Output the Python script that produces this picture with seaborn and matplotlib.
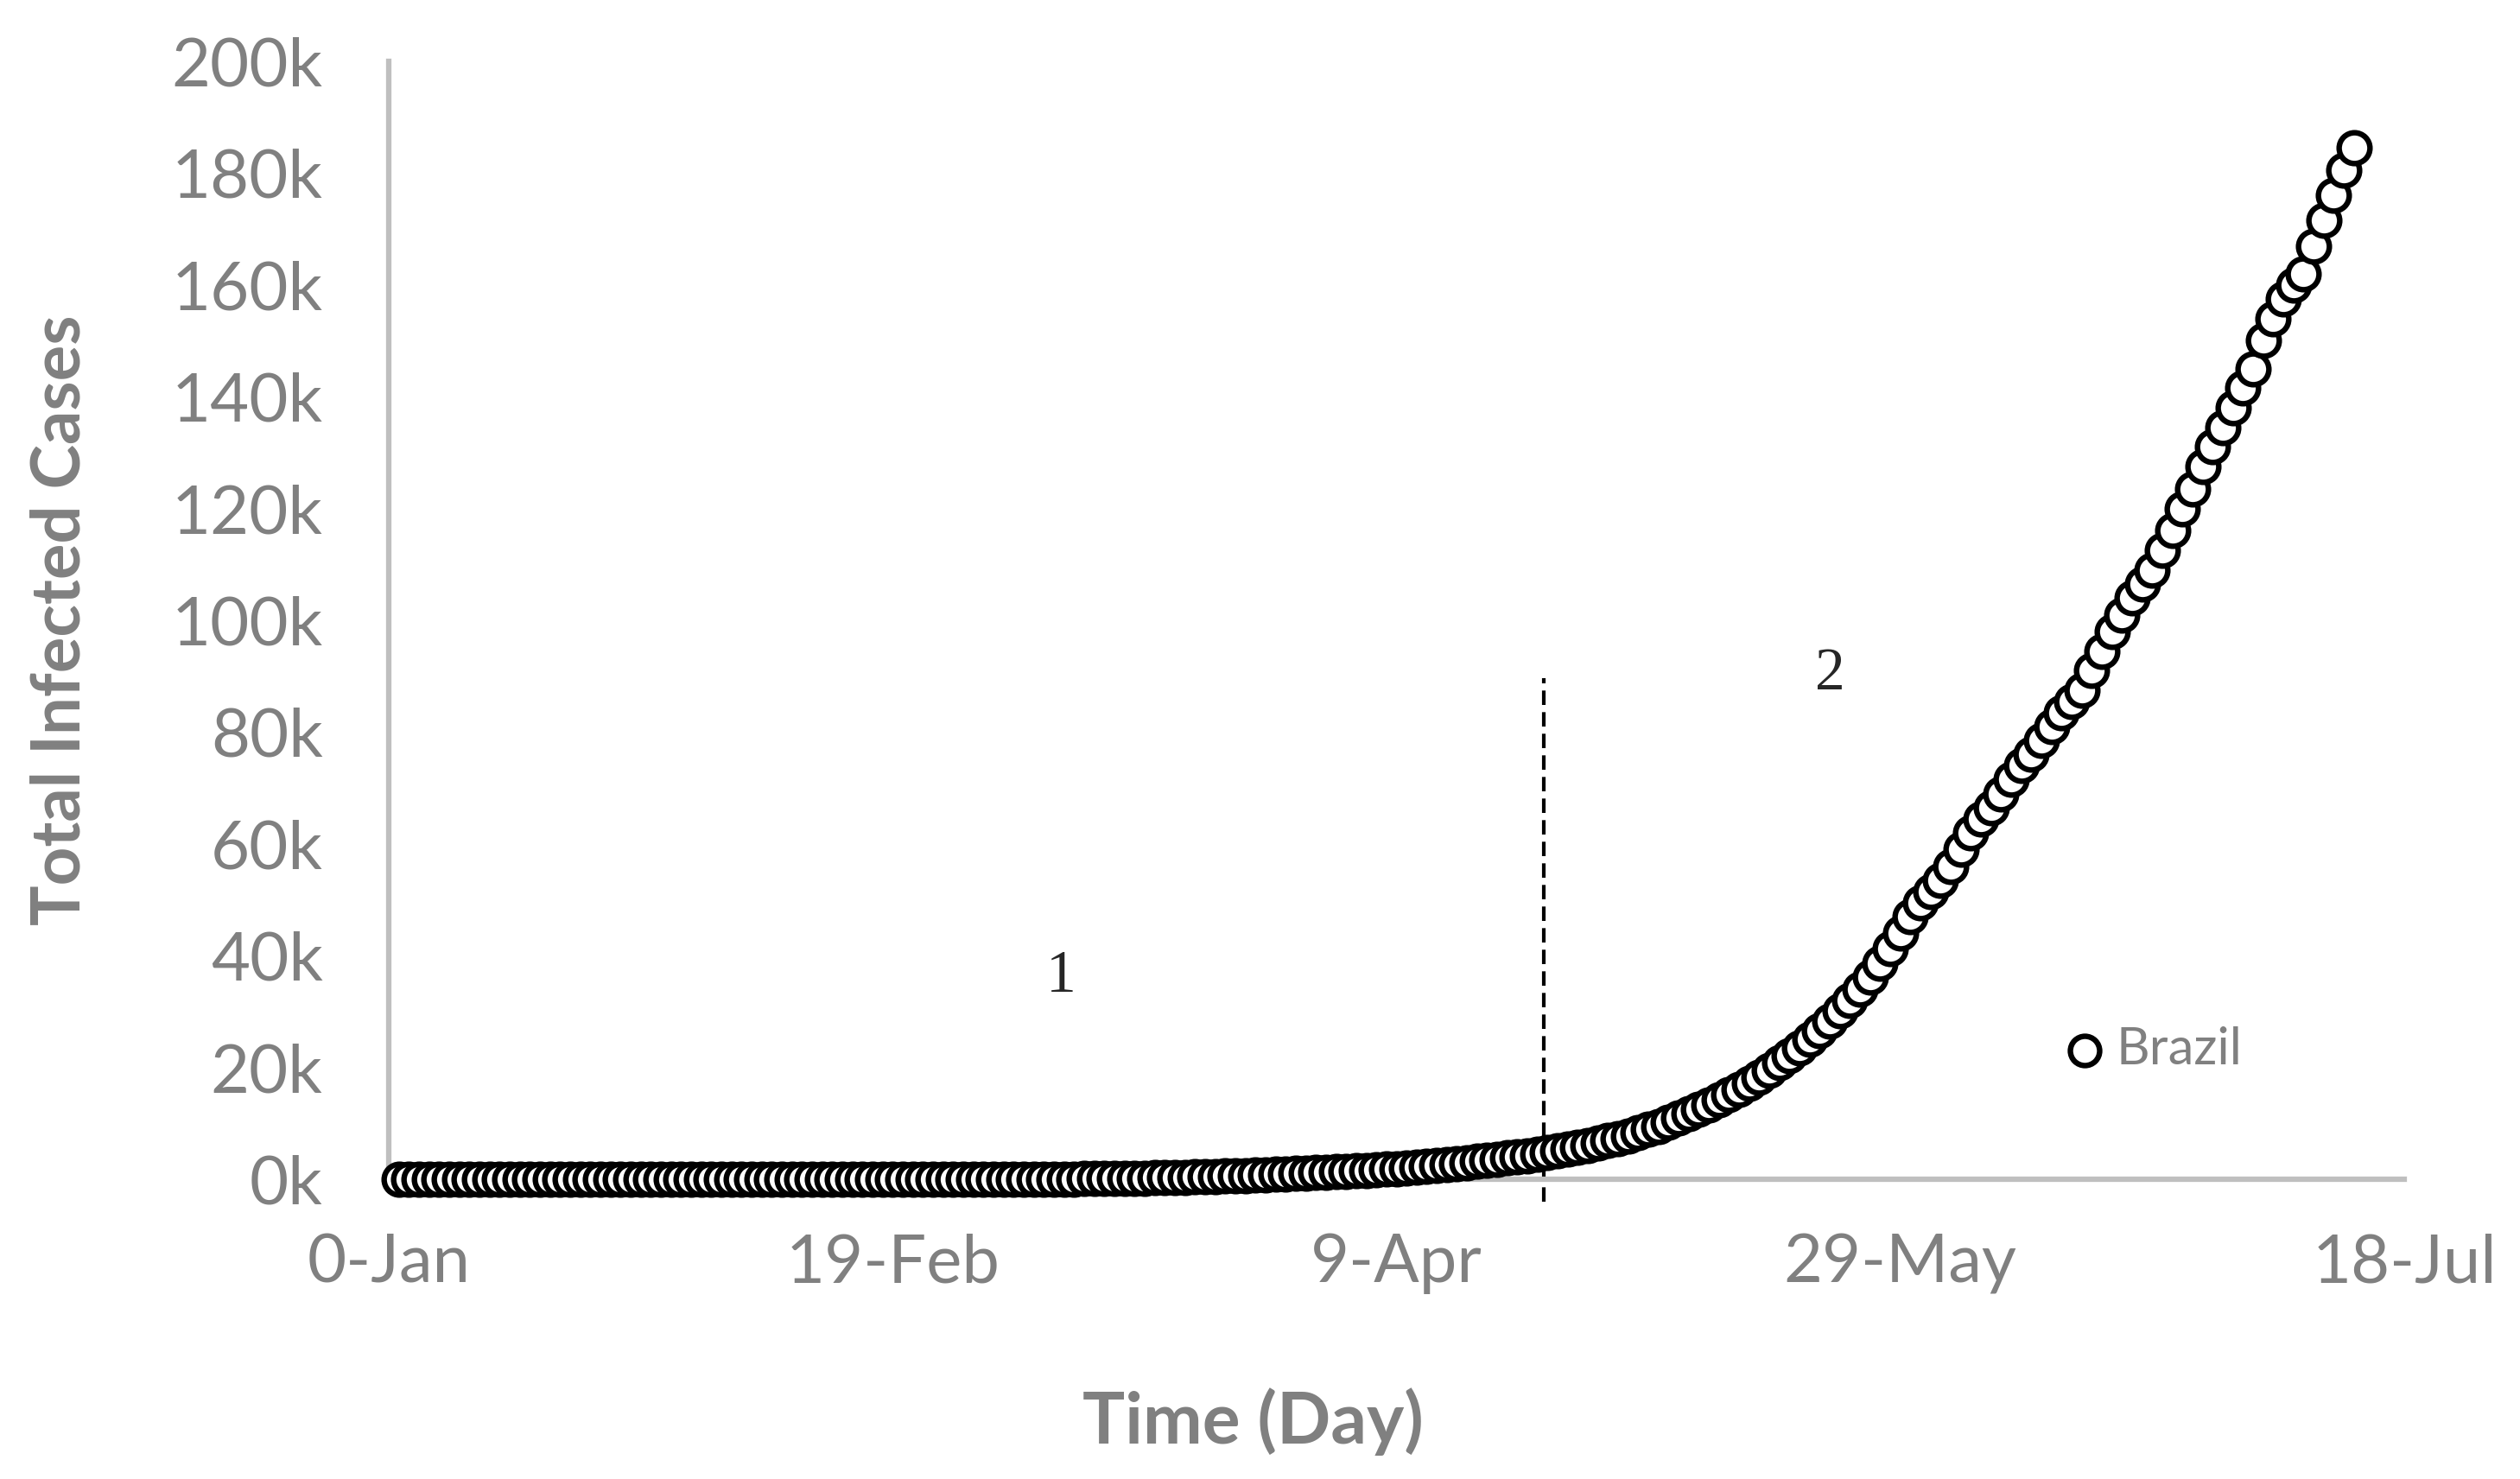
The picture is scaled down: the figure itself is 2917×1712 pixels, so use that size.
import matplotlib
matplotlib.use("Agg")
from matplotlib import pyplot as plt
import pandas as pd
import seaborn as sns

# Brazil - total infected cases per day
days = list(range(1, 196))
cases = [
    0, 0, 0, 0, 0, 0, 0, 0, 0, 0,
    0, 0, 0, 0, 0, 0, 0, 0, 0, 0,
    0, 0, 0, 0, 0, 0, 0, 0, 0, 0,
    0, 0, 0, 0, 0, 0, 0, 0, 0, 0,
    0, 0, 0, 0, 0, 0, 0, 0, 0, 0,
    0, 0, 0, 0, 0, 0, 1, 1, 1, 2,
    5, 10, 15, 20, 30, 40, 55, 70, 85, 100,
    120, 140, 160, 190, 220, 250, 290, 330, 370, 410,
    450, 500, 560, 620, 680, 740, 800, 870, 940, 1020,
    1100, 1180, 1260, 1340, 1420, 1500, 1600, 1700, 1800, 1900,
    2000, 2150, 2300, 2450, 2600, 2800, 3000, 3200, 3400, 3600,
    3800, 4000, 4250, 4500, 4800, 5100, 5400, 5750, 6100, 6500,
    6900, 7300, 7800, 8300, 8900, 9500, 10200, 10900, 11700, 12500,
    13300, 14200, 15100, 16100, 17200, 18300, 19500, 20800, 22100, 23500,
    25000, 26600, 28300, 30100, 32000, 34000, 36200, 38700, 41300, 44000,
    47000, 49500, 51500, 53500, 56000, 59000, 62000, 64500, 66500, 69000,
    71500, 74000, 76000, 78500, 81000, 83500, 85500, 87500, 91000, 94500,
    98000, 101000, 104000, 106500, 109000, 112500, 116000, 120000, 123500, 127500,
    131000, 134500, 138000, 141500, 145000, 150000, 154000, 157500, 160000, 162000,
    167000, 171500, 176000, 180500, 184500,
]

x_ticks = [0, 50, 100, 150, 200]
x_tick_labels = ["0-Jan", "19-Feb", "9-Apr", "29-May", "18-Jul"]
y_ticks = [0, 20000, 40000, 60000, 80000, 100000, 120000, 140000, 160000, 180000, 200000]
y_tick_labels = ["0k", "20k", "40k", "60k", "80k", "100k", "120k", "140k", "160k", "180k", "200k"]

df = pd.DataFrame({"day": days, "cases": cases, "country": "Brazil"})

sns.set_style("white")
plt.rcParams["font.family"] = ["Lato", "DejaVu Sans"]

grey = "#808080"
fig = plt.figure(figsize=(29.17, 17.12), dpi=100)
ax = fig.add_axes([450 / 2917, 347 / 1712, 2333 / 2917, 1294 / 1712])

# phase separator
ax.plot([114.6, 114.6], [-4000, 89600], color="black", lw=3,
        linestyle=(0, (4, 2)), clip_on=False, zorder=1)

sns.scatterplot(data=df, x="day", y="cases", ax=ax, marker="o", s=660,
                facecolor="white", edgecolor="black", linewidth=4.6,
                label="Brazil", clip_on=False, zorder=3)

ax.set_xlim(0, 200)
ax.set_ylim(0, 200000)
ax.set_xticks(x_ticks)
ax.set_xticklabels(x_tick_labels)
ax.set_yticks(y_ticks)
ax.set_yticklabels(y_tick_labels)
ax.tick_params(axis="both", length=0, labelsize=56, labelcolor=grey)
ax.tick_params(axis="x", pad=45)
ax.tick_params(axis="y", pad=55)

for side in ["top", "right"]:
    ax.spines[side].set_visible(False)
for side in ["left", "bottom"]:
    ax.spines[side].set_color("#bfbfbf")
    ax.spines[side].set_linewidth(4.5)

ax.set_xlabel("Time (Day)", fontsize=59, fontweight="bold", color=grey)
ax.xaxis.set_label_coords(0.429, -0.217)
ax.xaxis.label.set_va("center")
ax.set_ylabel("Total Infected Cases", fontsize=56, fontweight="bold", color=grey)
ax.yaxis.set_label_coords(-0.1625, 0.5)
ax.yaxis.label.set_va("center")

ax.text(66.7, 36200, "1", fontsize=50, family=["Liberation Serif", "DejaVu Serif"],
        ha="center", va="center")
ax.text(143, 90300, "2", fontsize=50, family=["Liberation Serif", "DejaVu Serif"],
        ha="center", va="center")

leg = ax.legend(loc="center left", bbox_to_anchor=(0.8326, 0.116), frameon=False,
                fontsize=43, markerscale=0.95, handlelength=0.7, handletextpad=0.25,
                borderpad=0, borderaxespad=0)
for t in leg.get_texts():
    t.set_color(grey)

plt.savefig("out.png", dpi=100)
